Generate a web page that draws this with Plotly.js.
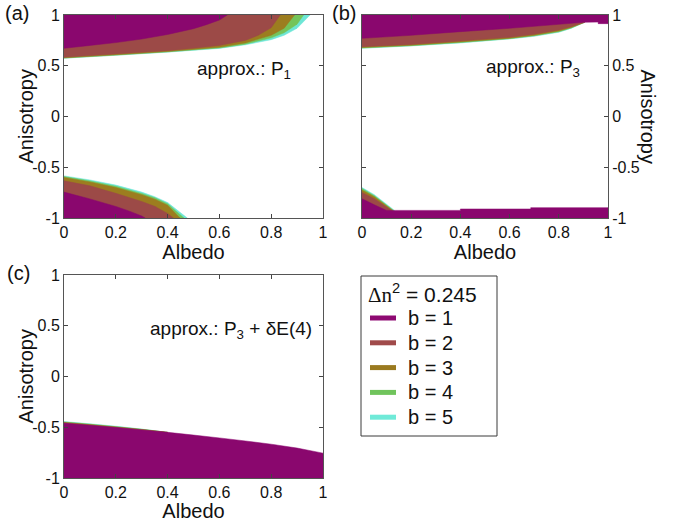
<!DOCTYPE html>
<html>
<head>
<meta charset="utf-8">
<script src="https://cdn.plot.ly/plotly-3.0.1.min.js"></script>
<style>html,body{margin:0;padding:0;background:#fff;}#chart{width:680px;height:522px;}</style>
</head>
<body>
<div id="chart"></div>
<script>
// ---------- data ----------
const X_TICKS = [0, 0.2, 0.4, 0.6, 0.8, 1];
const X_TICK_TEXT = ['0', '0.2', '0.4', '0.6', '0.8', '1'];
const Y_TICKS = [-1, -0.5, 0, 0.5, 1];
const Y_TICK_TEXT = ['-1', '-0.5', '0', '0.5', '1'];
const B_LABELS = ['b = 1', 'b = 2', 'b = 3', 'b = 4', 'b = 5'];
const LEGEND_TITLE = '<span style="font-family:Liberation Serif,DejaVu Serif,serif">Δn</span><sup>2</sup> = 0.245';
const PANEL_LABELS = ['(a)', '(b)', '(c)'];
const APPROX_LABELS = ['approx.: P<sub>1</sub>', 'approx.: P<sub>3</sub>', 'approx.: P<sub>3</sub> + δE(4)'];
const X_TITLE = 'Albedo';
const Y_TITLE = 'Anisotropy';

// (a) upper region: lower boundary (Anisotropy) vs Albedo, for b = 1..5
const aTopX = [
  [0, 0.1, 0.2, 0.3, 0.4, 0.5, 0.55, 0.6, 0.63],
  [0, 0.1, 0.2, 0.3, 0.4, 0.5, 0.6, 0.7, 0.75, 0.8, 0.835],
  [0, 0.2, 0.4, 0.6, 0.7, 0.8, 0.85, 0.89],
  [0, 0.2, 0.4, 0.6, 0.7, 0.8, 0.85, 0.9, 0.925],
  [0, 0.2, 0.4, 0.6, 0.7, 0.8, 0.85, 0.9, 0.95]
];
const aTopY = [
  [0.672, 0.70, 0.728, 0.763, 0.808, 0.865, 0.905, 0.95, 1],
  [0.583, 0.60, 0.616, 0.632, 0.649, 0.672, 0.70, 0.75, 0.80, 0.875, 1],
  [0.578, 0.608, 0.64, 0.683, 0.725, 0.80, 0.87, 1],
  [0.576, 0.605, 0.637, 0.676, 0.713, 0.775, 0.825, 0.91, 1],
  [0.574, 0.603, 0.634, 0.671, 0.706, 0.757, 0.80, 0.87, 1]
];
// (a) lower region: upper boundary
const aBotX = [
  [0, 0.1, 0.2, 0.25, 0.3, 0.313],
  [0, 0.1, 0.2, 0.3, 0.35, 0.4, 0.422],
  [0, 0.1, 0.2, 0.3, 0.35, 0.4, 0.448],
  [0, 0.1, 0.2, 0.3, 0.35, 0.4, 0.463],
  [0, 0.1, 0.2, 0.3, 0.35, 0.4, 0.476]
];
const aBotY = [
  [-0.745, -0.812, -0.886, -0.93, -0.98, -1],
  [-0.634, -0.683, -0.757, -0.837, -0.885, -0.955, -1],
  [-0.60, -0.645, -0.70, -0.77, -0.815, -0.875, -1],
  [-0.592, -0.635, -0.688, -0.758, -0.80, -0.86, -1],
  [-0.585, -0.625, -0.676, -0.745, -0.79, -0.848, -1]
];
// (b) upper region
const bTopX = [
  [0, 0.2, 0.4, 0.6, 0.8, 0.9, 0.96, 0.96, 1],
  [0, 0.2, 0.4, 0.6, 0.7, 0.8, 0.85, 0.905],
  [0, 0.2, 0.4, 0.6, 0.7, 0.8, 0.85, 0.905],
  [0, 0.2, 0.4, 0.6, 0.7, 0.8, 0.85, 0.905],
  [0, 0.2, 0.4, 0.6, 0.7, 0.8, 0.85, 0.905]
];
const bTopY = [
  [0.77, 0.80, 0.836, 0.869, 0.908, 0.928, 0.93, 0.915, 0.915],
  [0.688, 0.71, 0.744, 0.78, 0.81, 0.852, 0.885, 0.928],
  [0.68, 0.703, 0.735, 0.772, 0.80, 0.842, 0.877, 0.928],
  [0.675, 0.698, 0.729, 0.767, 0.795, 0.835, 0.872, 0.928],
  [0.672, 0.695, 0.725, 0.764, 0.79, 0.83, 0.868, 0.928]
];
// (b) lower region
const bBotX = [
  [0, 0.05, 0.1, 0.4, 0.4, 0.686, 0.686, 1],
  [0, 0.05, 0.12],
  [0, 0.05, 0.125],
  [0, 0.05, 0.128],
  [0, 0.05, 0.132]
];
const bBotY = [
  [-0.81, -0.87, -0.925, -0.925, -0.911, -0.911, -0.898, -0.898],
  [-0.748, -0.81, -0.925],
  [-0.725, -0.79, -0.925],
  [-0.71, -0.78, -0.925],
  [-0.70, -0.77, -0.925]
];
// (c) lower region
const cBotX = [
  [0, 0.1, 0.2, 0.3, 0.4, 0.5, 0.6, 0.7, 0.8, 0.9, 1],
  [0, 0.1, 0.2, 0.3, 0.4],
  [0, 0.1, 0.2, 0.3, 0.4],
  [0, 0.1, 0.2, 0.3, 0.4],
  [0, 0.1, 0.2, 0.3, 0.4]
];
const cBotY = [
  [-0.46, -0.481, -0.503, -0.526, -0.55, -0.577, -0.605, -0.635, -0.667, -0.705, -0.755],
  [-0.456, -0.478, -0.5, -0.524, -0.55],
  [-0.452, -0.474, -0.497, -0.522, -0.55],
  [-0.448, -0.47, -0.494, -0.52, -0.55],
  [-0.444, -0.466, -0.49, -0.518, -0.55]
];

// ---------- styles ----------
const FILL_COLORS = ['#8a076e', '#9c4a47', '#9c7d1f', '#74c45a', '#6de6d6'];
const LINE_COLORS = ['#8e0a72', '#a04a4a', '#9a7a20', '#70c45c', '#70ead8'];
const X_RANGE = [0, 1];
const Y_RANGE = [-1, 1];
const FONT = 'Liberation Sans, Arial, sans-serif';
const TXT = '#111';

function region(xs, ys, edge, color, xa, ya) {
  const px = xs.concat([xs[xs.length - 1], xs[0]]);
  const py = ys.concat([edge, edge]);
  return {type: 'scatter', mode: 'lines', x: px, y: py, fill: 'toself',
    fillcolor: color, line: {width: 0.5, color: color, simplify: false}, xaxis: xa, yaxis: ya,
    showlegend: false, hoverinfo: 'skip'};
}

const traces = [];
const sets = [
  [aTopX, aTopY, Y_RANGE[1], 'x', 'y'],
  [aBotX, aBotY, Y_RANGE[0], 'x', 'y'],
  [bTopX, bTopY, Y_RANGE[1], 'x2', 'y2'],
  [bBotX, bBotY, Y_RANGE[0], 'x2', 'y2'],
  [cBotX, cBotY, Y_RANGE[0], 'x3', 'y3']
];
sets.forEach(function (s) {
  for (let i = B_LABELS.length - 1; i >= 0; i--) {
    traces.push(region(s[0][i], s[1][i], s[2], FILL_COLORS[i], s[3], s[4]));
  }
});

function xAxis(domain, anchor) {
  return {domain: domain, anchor: anchor, range: X_RANGE, tickvals: X_TICKS, ticktext: X_TICK_TEXT,
    ticks: 'inside', ticklen: 4, tickcolor: '#444', mirror: 'ticks', showline: true,
    linecolor: '#555', linewidth: 1, showgrid: false, zeroline: false, automargin: false,
    tickfont: {family: FONT, size: 16, color: TXT},
    title: {text: X_TITLE, font: {family: FONT, size: 20, color: TXT}, standoff: 1}};
}
function yAxis(domain, anchor, side) {
  return {domain: domain, anchor: anchor, range: Y_RANGE, tickvals: Y_TICKS, ticktext: Y_TICK_TEXT,
    side: side, ticks: 'inside', ticklen: 4, tickcolor: '#444', mirror: 'ticks', showline: true,
    linecolor: '#555', linewidth: 1, showgrid: false, zeroline: false, automargin: false,
    tickfont: {family: FONT, size: 16, color: TXT}};
}

const W = 680, H = 522;
const px = function (v) { return v / W; };
const py = function (v) { return (H - v) / H; };
const topDom = [py(218), py(15)];
const botDom = [py(478), py(275)];
const leftDom = [px(64), px(323)];
const rightDom = [px(362), px(608)];

const annFont = {family: FONT, size: 19, color: TXT};
const panelFont = {family: FONT, size: 20, color: TXT};
const titleFont = {family: FONT, size: 20, color: TXT};

const annotations = [
  {text: PANEL_LABELS[0], xref: 'paper', yref: 'paper', x: px(3), y: py(13), xanchor: 'left', yanchor: 'middle', showarrow: false, font: panelFont},
  {text: PANEL_LABELS[1], xref: 'paper', yref: 'paper', x: px(330), y: py(13), xanchor: 'left', yanchor: 'middle', showarrow: false, font: panelFont},
  {text: PANEL_LABELS[2], xref: 'paper', yref: 'paper', x: px(5), y: py(273), xanchor: 'left', yanchor: 'middle', showarrow: false, font: panelFont},
  {text: APPROX_LABELS[0], xref: 'x', yref: 'y', x: 0.506, y: 0.46, xanchor: 'left', yanchor: 'middle', showarrow: false, font: annFont},
  {text: APPROX_LABELS[1], xref: 'x2', yref: 'y2', x: 0.496, y: 0.48, xanchor: 'left', yanchor: 'middle', showarrow: false, font: annFont},
  {text: APPROX_LABELS[2], xref: 'x3', yref: 'y3', x: 0.325, y: 0.46, xanchor: 'left', yanchor: 'middle', showarrow: false, font: annFont},
  {text: Y_TITLE, xref: 'paper', yref: 'paper', x: px(25), y: py(116.5), xanchor: 'center', yanchor: 'middle', textangle: -90, showarrow: false, font: titleFont},
  {text: Y_TITLE, xref: 'paper', yref: 'paper', x: px(25), y: py(376.5), xanchor: 'center', yanchor: 'middle', textangle: -90, showarrow: false, font: titleFont},
  {text: Y_TITLE, xref: 'paper', yref: 'paper', x: px(648), y: py(116.5), xanchor: 'center', yanchor: 'middle', textangle: 90, showarrow: false, font: titleFont},
  // legend title
  {text: LEGEND_TITLE, xref: 'paper', yref: 'paper', x: px(366), y: py(293), xanchor: 'left', yanchor: 'middle', showarrow: false, font: {family: FONT, size: 21, color: TXT}}
];
// legend box + entries
const shapes = [
  {type: 'rect', xref: 'paper', yref: 'paper', x0: px(361), x1: px(497), y0: py(436), y1: py(276),
    line: {color: '#3a3a3a', width: 1}, fillcolor: 'rgba(0,0,0,0)'}
];
const LEG_ROW0 = 318, LEG_STEP = 24.8;
B_LABELS.forEach(function (lab, i) {
  const yy = LEG_ROW0 + i * LEG_STEP;
  shapes.push({type: 'line', xref: 'paper', yref: 'paper', x0: px(370), x1: px(396), y0: py(yy), y1: py(yy),
    line: {color: LINE_COLORS[i], width: 5}});
  annotations.push({text: lab, xref: 'paper', yref: 'paper', x: px(406), y: py(yy), xanchor: 'left', yanchor: 'middle',
    showarrow: false, font: {family: FONT, size: 20, color: TXT}});
});

const layout = {
  width: W, height: H, margin: {l: 0, r: 0, t: 0, b: 0},
  paper_bgcolor: '#fff', plot_bgcolor: '#fff', showlegend: false,
  xaxis: xAxis(leftDom, 'y'), yaxis: yAxis(topDom, 'x', 'left'),
  xaxis2: xAxis(rightDom, 'y2'), yaxis2: yAxis(topDom, 'x2', 'right'),
  xaxis3: xAxis(leftDom, 'y3'), yaxis3: yAxis(botDom, 'x3', 'left'),
  annotations: annotations, shapes: shapes
};

Plotly.newPlot('chart', traces, layout, {displayModeBar: false, staticPlot: true});
</script>
</body>
</html>
